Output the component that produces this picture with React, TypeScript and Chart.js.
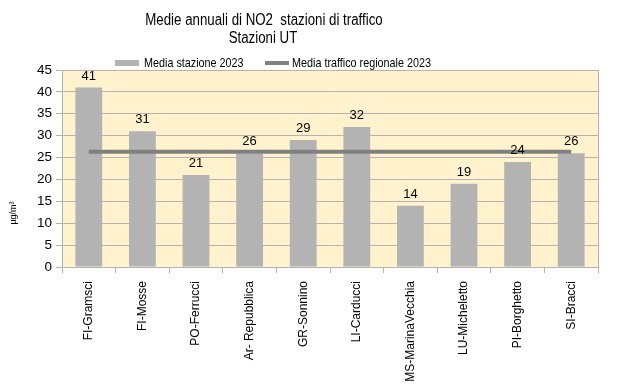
import React, { useEffect, useRef } from "react";
import { Chart, registerables } from "chart.js";

Chart.register(...registerables);

const categories = [
  "FI-Gramsci",
  "FI-Mosse",
  "PO-Ferrucci",
  "Ar- Repubblica",
  "GR-Sonnino",
  "LI-Carducci",
  "MS-MarinaVecchia",
  "LU-Micheletto",
  "PI-Borghetto",
  "SI-Bracci",
];
const stationValues = [41, 31, 21, 26, 29, 32, 14, 19, 24, 26];
const regionalAverage = [26.3, 26.3, 26.3, 26.3, 26.3, 26.3, 26.3, 26.3, 26.3, 26.3];
const titleLines = ["Medie annuali di NO2  stazioni di traffico", "Stazioni UT"];
const seriesNames = ["Media stazione 2023", "Media traffico regionale 2023"];
const yAxisTitle = "µg/m³";

const BAR_COLOR = "#b3b3b3";
const LINE_COLOR = "#808080";
const BG_COLOR = "#fff2cc";
const FONT = "'Liberation Sans', Arial, sans-serif";
const NARROW_SCALE = 0.83;

function narrowText(ctx: CanvasRenderingContext2D, text: string, x: number, y: number, align: CanvasTextAlign) {
  ctx.save();
  ctx.translate(x, y);
  ctx.scale(NARROW_SCALE, 1);
  ctx.textAlign = align;
  ctx.fillText(text, 0, 0);
  ctx.restore();
}

const decorPlugin = {
  id: "decor",
  beforeDraw(chart: any) {
    const { ctx, chartArea } = chart;
    ctx.save();
    ctx.fillStyle = BG_COLOR;
    ctx.fillRect(chartArea.left, chartArea.top, chartArea.right - chartArea.left, chartArea.bottom - chartArea.top);
    ctx.restore();
  },
  afterDraw(chart: any) {
    const { ctx, chartArea } = chart;
    ctx.save();
    // title
    ctx.fillStyle = "#000";
    ctx.font = `16px ${FONT}`;
    ctx.textBaseline = "middle";
    narrowText(ctx, titleLines[0], 264, 21, "center");
    narrowText(ctx, titleLines[1], 263, 39, "center");
    // legend
    ctx.font = `13px ${FONT}`;
    ctx.fillStyle = BAR_COLOR;
    ctx.fillRect(115, 60, 24, 6);
    ctx.fillStyle = "#000";
    narrowText(ctx, seriesNames[0], 144, 63, "left");
    ctx.fillStyle = LINE_COLOR;
    ctx.fillRect(265, 61, 24, 4);
    ctx.fillStyle = "#000";
    narrowText(ctx, seriesNames[1], 292, 63, "left");
    // y axis title
    ctx.font = `9px ${FONT}`;
    ctx.translate(14, 213);
    ctx.rotate(-Math.PI / 2);
    ctx.textAlign = "center";
    ctx.fillText(yAxisTitle, 0, 0);
    ctx.restore();
    // right border
    ctx.save();
    ctx.strokeStyle = "#b3b3b3";
    ctx.lineWidth = 1;
    ctx.beginPath();
    ctx.moveTo(Math.round(chartArea.right) + 0.5, chartArea.top);
    ctx.lineTo(Math.round(chartArea.right) + 0.5, chartArea.bottom);
    ctx.stroke();
    ctx.restore();
    // data labels
    const meta = chart.getDatasetMeta(0);
    ctx.save();
    ctx.font = `13px ${FONT}`;
    ctx.fillStyle = "#000";
    ctx.textAlign = "center";
    ctx.textBaseline = "bottom";
    meta.data.forEach((el: any, i: number) => {
      ctx.fillText(String(stationValues[i]), el.x, el.y - 5);
    });
    ctx.restore();
  },
};

export default function App() {
  const ref = useRef<HTMLCanvasElement>(null);
  useEffect(() => {
    if (!ref.current) return;
    const chart = new Chart(ref.current, {
      type: "bar",
      data: {
        labels: categories,
        datasets: [
          {
            type: "bar",
            label: seriesNames[0],
            data: stationValues,
            backgroundColor: BAR_COLOR,
            barPercentage: 0.5,
            categoryPercentage: 1,
            order: 2,
          },
          {
            type: "line",
            label: seriesNames[1],
            data: regionalAverage,
            borderColor: LINE_COLOR,
            backgroundColor: LINE_COLOR,
            borderWidth: 4,
            pointRadius: 0,
            borderCapStyle: "butt",
            order: 1,
          } as any,
        ],
      },
      options: {
        animation: false,
        responsive: false,
        layout: { padding: { top: 70, left: 0, right: 25, bottom: 0 } },
        plugins: {
          legend: { display: false },
          title: { display: false },
          tooltip: { enabled: false },
        },
        scales: {
          x: {
            afterFit: (s: any) => {
              s.height = 125;
            },
            grid: { drawOnChartArea: false, drawTicks: true, tickLength: 6, color: "#b3b3b3", offset: true },
            border: { color: "#b3b3b3" },
            ticks: {
              minRotation: 90,
              maxRotation: 90,
              autoSkip: false,
              padding: 8,
              color: "#000",
              font: { family: FONT, size: 12 },
            },
          },
          y: {
            min: 0,
            max: 45,
            afterFit: (s: any) => {
              s.width = 62;
            },
            ticks: {
              stepSize: 5,
              padding: 4,
              color: "#000",
              font: { family: FONT, size: 13.5 },
            },
            grid: { color: "#b3b3b3", tickLength: 6 },
            border: { color: "#b3b3b3" },
          },
        },
      },
      plugins: [decorPlugin],
    });
    return () => chart.destroy();
  }, []);
  return (
    <div style={{ position: "absolute", left: 0, top: 0, width: 623, height: 392, background: "#fff" }}>
      <canvas ref={ref} width={623} height={392} style={{ width: 623, height: 392 }} />
    </div>
  );
}
